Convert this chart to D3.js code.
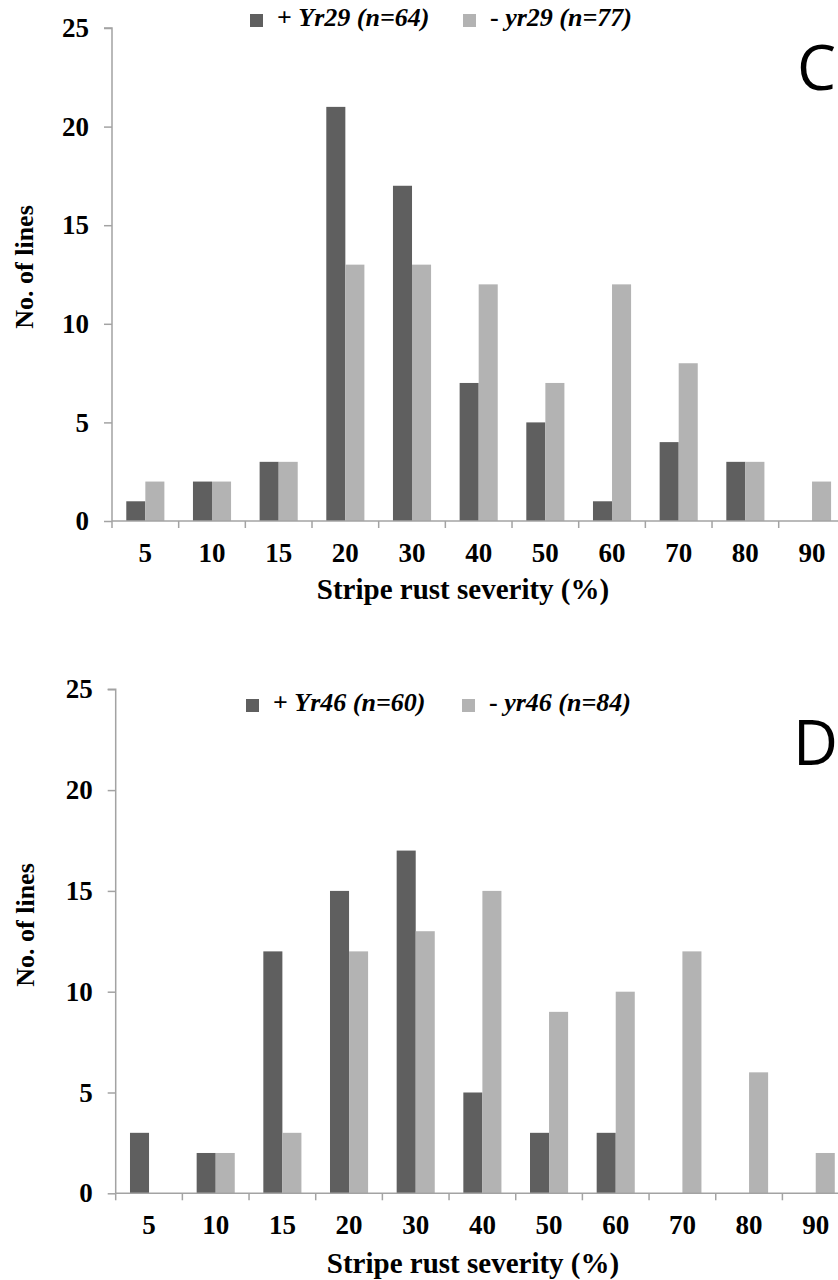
<!DOCTYPE html>
<html>
<head>
<meta charset="utf-8">
<script src="https://cdn.jsdelivr.net/npm/d3@7"></script>
<style>
  html, body { margin: 0; padding: 0; background: #fff; }
  svg { display: block; }
</style>
</head>
<body>
<svg id="chart" width="838" height="1280"></svg>
<script>
// ---------- data ----------
const categories = ["5", "10", "15", "20", "30", "40", "50", "60", "70", "80", "90"];
const yTicks = [0, 5, 10, 15, 20, 25];

// Panel C
const seriesC = ["+Yr29", "-yr29"];
const plusYr29 = [1, 2, 3, 21, 17, 7, 5, 1, 4, 3, 0];
const minusYr29 = [2, 2, 3, 13, 13, 12, 7, 12, 8, 3, 2];
const legendC = [["+ ", "Yr29", " (n=64)"], ["- ", "yr29", " (n=77)"]];

// Panel D
const seriesD = ["+Yr46", "-yr46"];
const plusYr46 = [3, 2, 12, 15, 17, 5, 3, 3, 0, 0, 0];
const minusYr46 = [0, 2, 3, 12, 13, 15, 9, 10, 12, 6, 2];
const legendD = [["+ ", "Yr46", " (n=60)"], ["- ", "yr46", " (n=84)"]];

const xTitle = "Stripe rust severity (%)";
const yTitle = "No. of lines";

// ---------- drawing ----------
const colors = ["#5f5f5f", "#b3b3b3"];
const axisColor = "#a3a3a3";
const serif = "'Liberation Serif', 'Times New Roman', serif";
const svg = d3.select("#chart");

function drawPanel(cfg) {
  const g = svg.append("g");
  const x = d3.scaleBand().domain(categories).range([cfg.left, cfg.left + 66.67 * categories.length]).padding(0);
  const xs = d3.scaleBand().domain(cfg.series).range([0, x.bandwidth()]).paddingInner(0).paddingOuter(0.75);
  const y = d3.scaleLinear().domain([0, 25]).range([cfg.bottom, cfg.top]);

  const rows = categories.map((c, i) => ({cat: c, vals: [cfg.a[i], cfg.b[i]]}));

  // bars
  const grp = g.selectAll("g.cat").data(rows).join("g")
    .attr("transform", d => `translate(${x(d.cat)},0)`);
  grp.selectAll("rect").data(d => d.vals.map((v, k) => ({s: cfg.series[k], v, k}))).join("rect")
    .attr("x", d => xs(d.s))
    .attr("width", xs.bandwidth())
    .attr("y", d => y(d.v))
    .attr("height", d => y(0) - y(d.v))
    .attr("fill", d => colors[d.k]);

  // y axis
  const yAxis = d3.axisLeft(y).tickValues(yTicks).tickSize(8).tickPadding(15).tickFormat(d3.format("d"));
  const ya = g.append("g").attr("transform", `translate(${cfg.left},0)`).call(yAxis);
  ya.select(".domain").attr("stroke", axisColor).attr("stroke-width", 1.5).attr("d", `M-8,${y(25)}H0V${y(0)}`);
  ya.selectAll(".tick line").attr("stroke", axisColor).attr("stroke-width", 1.5);
  ya.selectAll(".tick text").attr("font-family", serif).attr("font-weight", "bold")
    .attr("font-size", 27).attr("fill", "#000");

  // x axis: line + ticks at band boundaries
  const xa = g.append("g");
  xa.append("line").attr("x1", x.range()[0]).attr("x2", x.range()[1])
    .attr("y1", y(0)).attr("y2", y(0)).attr("stroke", axisColor).attr("stroke-width", 1.5);
  xa.selectAll("line.tk").data(categories).join("line").attr("class", "tk")
    .attr("x1", d => x(d)).attr("x2", d => x(d))
    .attr("y1", y(0)).attr("y2", y(0) + 7).attr("stroke", axisColor).attr("stroke-width", 1.5);
  xa.selectAll("text").data(categories).join("text")
    .attr("x", d => x(d) + x.bandwidth() / 2)
    .attr("y", y(0) + cfg.xLabelDy)
    .attr("text-anchor", "middle")
    .attr("font-family", serif).attr("font-weight", "bold").attr("font-size", 27)
    .text(d => d);

  // axis titles
  g.append("text").attr("x", cfg.xTitleX).attr("y", cfg.xTitleY)
    .attr("text-anchor", "middle").attr("font-family", serif).attr("font-weight", "bold")
    .attr("font-size", 29).text(xTitle);
  g.append("text").attr("transform", `translate(${cfg.yTitleX},${cfg.yTitleY}) rotate(-90)`)
    .attr("text-anchor", "middle").attr("font-family", serif).attr("font-weight", "bold")
    .attr("font-size", 26).text(yTitle);

  // legend
  cfg.legend.forEach((parts, k) => {
    const lx = cfg.legendX[k];
    g.append("rect").attr("x", lx).attr("y", cfg.legendY - 12).attr("width", 13).attr("height", 13)
      .attr("fill", colors[k]);
    const t = g.append("text").attr("x", lx + 27).attr("y", cfg.legendY)
      .attr("font-family", serif).attr("font-weight", "bold").attr("font-size", 26);
    t.append("tspan").text(parts[0]);
    t.append("tspan").attr("font-style", "italic").text(parts[1]);
    t.append("tspan").attr("font-style", "italic").text(parts[2]);
  });

  // panel letter
  g.append("text").attr("x", cfg.letterX).attr("y", cfg.letterY)
    .attr("font-family", "'Open Sans', 'Noto Sans', sans-serif").attr("font-size", 62)
    .attr("fill", "#000").text(cfg.letter);
}

drawPanel({
  left: 112, top: 28, bottom: 521,
  series: seriesC, a: plusYr29, b: minusYr29,
  legend: legendC, legendX: [250, 463], legendY: 26,
  xLabelDy: 41, xTitleX: 463, xTitleY: 599, yTitleX: 33, yTitleY: 267,
  letter: "C", letterX: 797, letterY: 90
});

drawPanel({
  left: 115.7, top: 689.3, bottom: 1193.3,
  series: seriesD, a: plusYr46, b: minusYr46,
  legend: legendD, legendX: [246, 462], legendY: 711,
  xLabelDy: 41, xTitleX: 473, xTitleY: 1273, yTitleX: 34, yTitleY: 925,
  letter: "D", letterX: 793, letterY: 765
});
</script>
</body>
</html>
